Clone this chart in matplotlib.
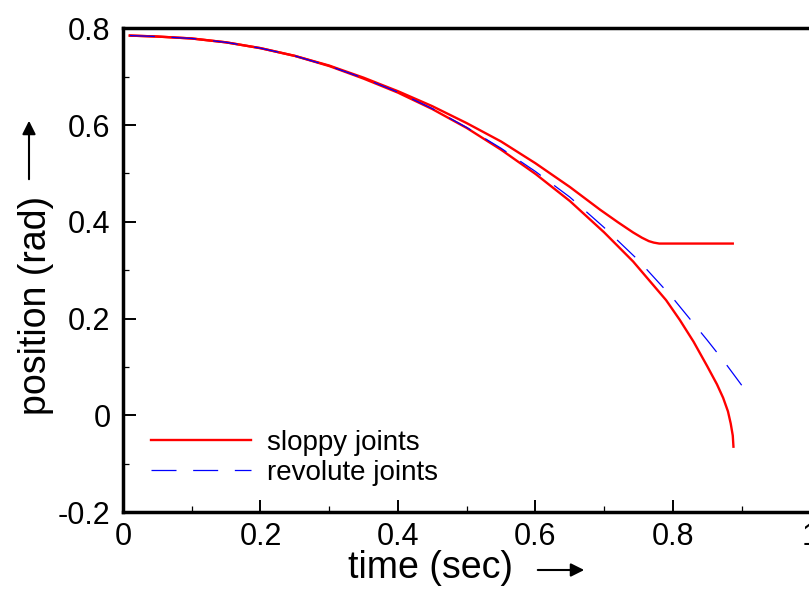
import matplotlib
matplotlib.use("Agg")
import matplotlib.pyplot as plt
from matplotlib.ticker import MultipleLocator, FuncFormatter

plt.rcParams["font.family"] = ["Liberation Sans", "DejaVu Sans"]
plt.rcParams["axes.unicode_minus"] = False
plt.rcParams["lines.scale_dashes"] = False

# revolute joints (dashed blue)
t_rev = [0.01, 0.05, 0.10, 0.15, 0.20, 0.25, 0.30, 0.35, 0.40, 0.45, 0.50, 0.55,
         0.60, 0.65, 0.70, 0.75, 0.80, 0.85, 0.875, 0.90]
p_rev = [0.785, 0.783, 0.779, 0.771, 0.759, 0.743, 0.722, 0.697, 0.668, 0.634, 0.595, 0.552,
         0.504, 0.451, 0.388, 0.320, 0.242, 0.155, 0.110, 0.062]

# sloppy joints, branch that keeps falling
t_fall = [0.01, 0.05, 0.10, 0.15, 0.20, 0.25, 0.30, 0.35, 0.40, 0.45, 0.50, 0.55,
          0.60, 0.65, 0.70, 0.742, 0.79, 0.81, 0.83, 0.85, 0.864, 0.873, 0.88,
          0.884, 0.887, 0.888]
p_fall = [0.785, 0.783, 0.779, 0.771, 0.759, 0.743, 0.722, 0.696, 0.667, 0.633, 0.594, 0.549,
          0.499, 0.443, 0.378, 0.318, 0.238, 0.197, 0.152, 0.101, 0.064, 0.036, 0.008,
          -0.017, -0.042, -0.065]

# sloppy joints, branch that stops
t_stop = [0.01, 0.05, 0.10, 0.15, 0.20, 0.25, 0.30, 0.35, 0.40, 0.45, 0.50, 0.55,
          0.60, 0.65, 0.694, 0.72, 0.742, 0.755, 0.765, 0.772, 0.78, 0.887]
p_stop = [0.785, 0.783, 0.779, 0.771, 0.759, 0.743, 0.723, 0.698, 0.670, 0.639, 0.604, 0.566,
          0.521, 0.472, 0.425, 0.399, 0.378, 0.367, 0.360, 0.357, 0.355, 0.355]

fig = plt.figure(figsize=(8.09, 5.90), dpi=100)
ax = fig.add_axes([0.152, 0.1322, 0.8498, 0.8198])

ax.plot(t_fall, p_fall, color="red", lw=1.7, label="sloppy joints")
ax.plot(t_stop, p_stop, color="red", lw=1.7)
ax.plot(t_rev, p_rev, color="blue", lw=0.9, linestyle=(0, (18, 12)), label="revolute joints")

ax.set_xlim(0, 1)
ax.set_ylim(-0.2, 0.8)
ax.xaxis.set_major_locator(MultipleLocator(0.2))
ax.xaxis.set_minor_locator(MultipleLocator(0.1))
ax.yaxis.set_major_locator(MultipleLocator(0.2))
ax.yaxis.set_minor_locator(MultipleLocator(0.1))
fmt = FuncFormatter(lambda v, pos: "%g" % round(v, 3))
ax.xaxis.set_major_formatter(fmt)
ax.yaxis.set_major_formatter(fmt)
ax.tick_params(which="both", direction="in", labelsize=22)
ax.tick_params(which="major", length=9, width=1.4)
ax.tick_params(which="minor", length=4, width=0.9)
ax.tick_params(axis="y", pad=9)
ax.tick_params(axis="x", pad=7)
for s in ax.spines.values():
    s.set_linewidth(2.5)

ax.legend(loc="lower left", bbox_to_anchor=(0.013, 0.014), frameon=False, fontsize=20,
          handlelength=3.6, handletextpad=0.55, labelspacing=0.13, borderpad=0.2)

# axis labels with arrows
fig.text(430 / 809, 1 - 568 / 590, "time (sec)", fontsize=27, ha="center", va="center")
fig.text(36 / 809, 1 - 305 / 590, "position (rad)", fontsize=27, ha="center", va="center",
         rotation=90)
ax.annotate("", xy=(587 / 809, 1 - 570 / 590), xytext=(535 / 809, 1 - 570 / 590),
            xycoords="figure fraction", textcoords="figure fraction",
            arrowprops=dict(arrowstyle="-|>", color="black", lw=1.5, mutation_scale=20))
ax.annotate("", xy=(29 / 809, 1 - 118 / 590), xytext=(29 / 809, 1 - 182 / 590),
            xycoords="figure fraction", textcoords="figure fraction",
            arrowprops=dict(arrowstyle="-|>", color="black", lw=1.5, mutation_scale=20))

fig.savefig("out.png", dpi=100)
